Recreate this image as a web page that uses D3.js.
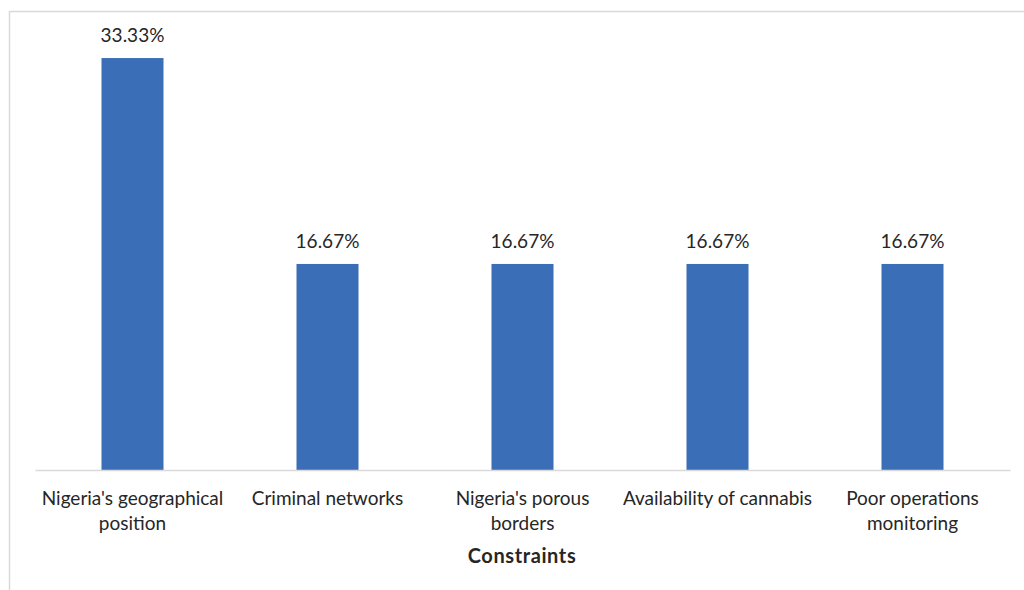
<!DOCTYPE html>
<html>
<head>
<meta charset="utf-8">
<script src="https://cdn.jsdelivr.net/npm/d3@7"></script>
<style>
  body { margin: 0; background: #fff; }
  svg text { font-family: Lato, "Open Sans", sans-serif; fill: #262626; }
</style>
</head>
<body>
<svg id="chart"></svg>
<script>
// data
const categories = [
  "Nigeria's geographical position",
  "Criminal networks",
  "Nigeria's porous borders",
  "Availability of cannabis",
  "Poor operations monitoring"
];
const shares = [33.33, 16.67, 16.67, 16.67, 16.67];
const axisTitle = "Constraints";

const width = 1024;
const height = 590;

const svg = d3.select('#chart')
    .attr('width', width)
    .attr('height', height);

// chart border (only left and top visible in the frame)
svg.append('rect')
    .attr('x', 9.5)
    .attr('y', 11.5)
    .attr('width', 1030)
    .attr('height', 600)
    .attr('fill', 'none')
    .attr('stroke', '#d9d9d9')
    .attr('stroke-width', 1.5);

const x = d3.scaleBand()
    .domain(categories)
    .range([35, 1010])
    .paddingInner(0.682)
    .paddingOuter(0.341);

const y = d3.scaleLinear()
    .domain([0, 35])
    .range([470, 37.4]);

// bars
svg.selectAll('.bar')
    .data(categories)
    .enter()
    .append('rect')
    .attr('class', 'bar')
    .attr('x', d => x(d))
    .attr('y', (d, i) => y(shares[i]))
    .attr('width', x.bandwidth())
    .attr('height', (d, i) => y(0) - y(shares[i]))
    .attr('fill', '#3a6fb7');

// value labels
svg.selectAll('.val')
    .data(categories)
    .enter()
    .append('text')
    .attr('class', 'val')
    .attr('x', d => x(d) + x.bandwidth() / 2)
    .attr('y', (d, i) => y(shares[i]) - 16)
    .attr('text-anchor', 'middle')
    .style('font-size', '19px')
    .text((d, i) => shares[i].toFixed(2) + '%');

// x axis baseline
const xAxis = svg.append('g')
    .attr('transform', 'translate(0,' + y(0) + ')')
    .call(d3.axisBottom(x).tickSize(0).tickPadding(0));
xAxis.select('.domain').attr('stroke', '#d9d9d9').attr('stroke-width', 1.5);
xAxis.selectAll('.tick text').remove();

// category labels, wrapped to the band step
const labels = svg.selectAll('.cat')
    .data(categories)
    .enter()
    .append('text')
    .attr('class', 'cat')
    .attr('text-anchor', 'middle')
    .attr('y', 505)
    .style('font-size', '19px');

labels.each(function(d) {
  const t = d3.select(this);
  const cx = x(d) + x.bandwidth() / 2;
  const words = d.split(' ');
  let line = [];
  let tspan = t.append('tspan').attr('x', cx).attr('dy', 0);
  words.forEach(function(w) {
    line.push(w);
    tspan.text(line.join(' '));
    if (tspan.node().getComputedTextLength() > 196 && line.length > 1) {
      line.pop();
      tspan.text(line.join(' '));
      line = [w];
      tspan = t.append('tspan').attr('x', cx).attr('dy', 25).text(w);
    }
  });
});

// axis title
svg.append('text')
    .attr('x', 522)
    .attr('y', 563)
    .attr('text-anchor', 'middle')
    .style('font-size', '20px')
    .style('font-weight', 'bold')
    .style('letter-spacing', '0.6px')
    .text(axisTitle);
</script>
</body>
</html>
